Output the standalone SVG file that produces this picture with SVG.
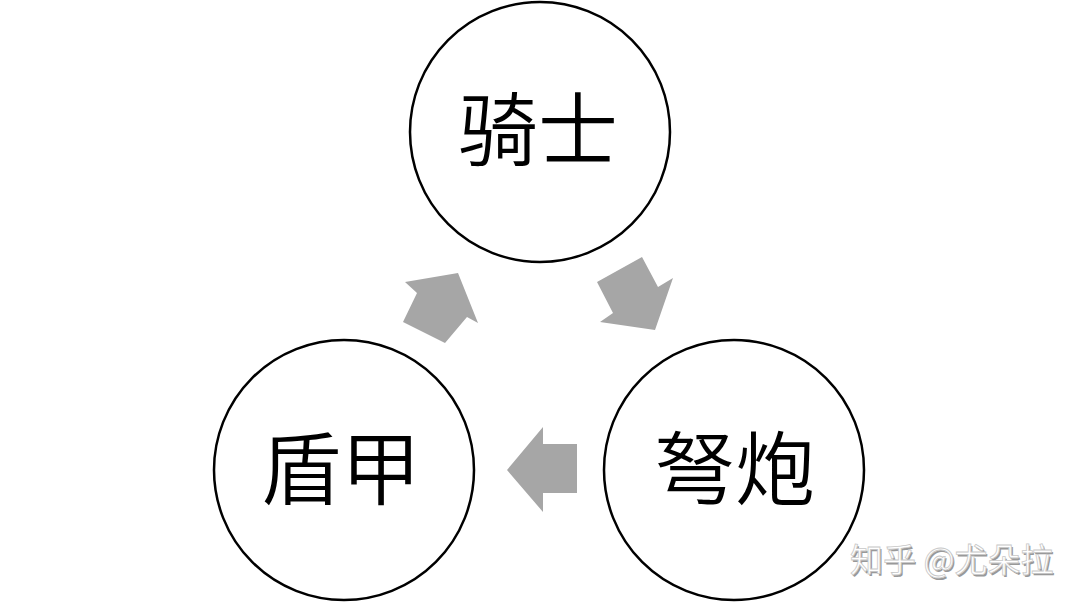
<svg xmlns="http://www.w3.org/2000/svg" width="1080" height="605" viewBox="0 0 1080 605">
<style>
.node circle{fill:#fff;stroke:#000;stroke-width:2.5}
.node text{font-family:"Noto Sans CJK SC","Noto Sans",sans-serif;font-size:80px;font-weight:350;fill:#000;text-anchor:middle;dominant-baseline:central}
.arrow{fill:#a6a6a6}
.wm{font-family:"Noto Sans CJK SC","Noto Sans",sans-serif;font-size:33px;text-anchor:start}
</style>
<rect width="1080" height="605" fill="#fff"/>
<g id="node-knight" class="node"><circle cx="540" cy="132" r="130"/><text x="538" y="124">骑士</text></g>
<g id="node-shield" class="node"><circle cx="344" cy="470" r="130"/><text x="341" y="463">盾甲</text></g>
<g id="node-crossbow" class="node"><circle cx="734" cy="470" r="130"/><text x="735" y="463">弩炮</text></g>
<g id="connectors">
<polygon class="arrow" points="403,322 417,293 405,282 458,273 478,323 467,317 445,343"/>
<polygon class="arrow" points="597,282 642,257 658,287 673,278 655,330 600,322 613,313"/>
<polygon class="arrow" points="577,444 543,444 543,427 507,470 543,512 543,493 577,493"/>
</g>
<g id="watermark">
<text class="wm" x="850" y="572" fill="#999" transform="translate(1.5,1.5)">知乎 @尤朵拉</text>
<text class="wm" x="850" y="572" fill="#fff" stroke="#c8c8c8" stroke-width="0.8">知乎 @尤朵拉</text>
</g>
</svg>
